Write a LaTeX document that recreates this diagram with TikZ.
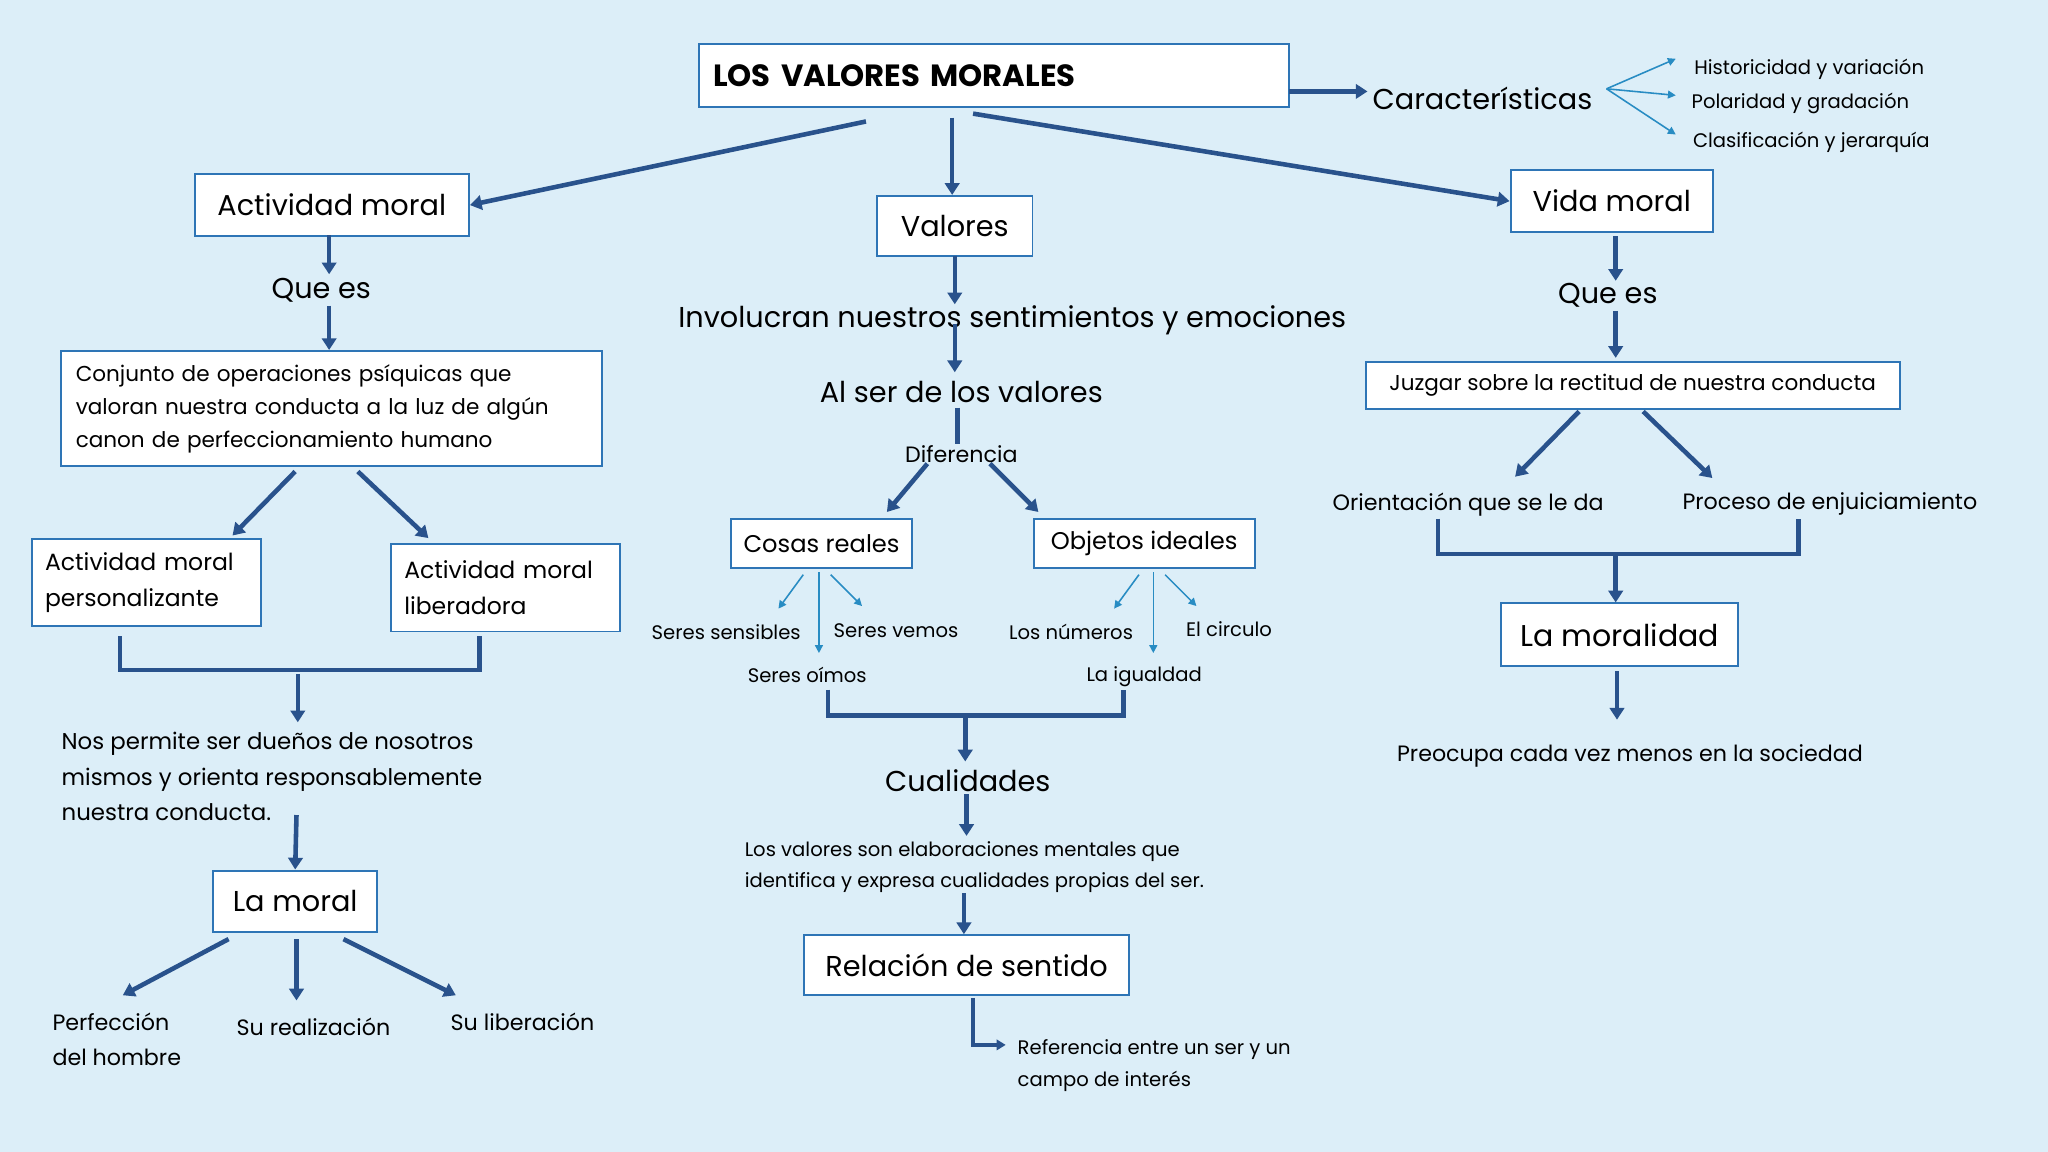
\documentclass[tikz,border=0pt]{standalone}
\usepackage{fontspec}
\setmainfont{Poppins}
\usetikzlibrary{arrows.meta}
\definecolor{bgBlue}{RGB}{220,238,248}
\definecolor{boxBlue}{RGB}{46,117,182}
\definecolor{arrowBlue}{RGB}{41,82,140}
\definecolor{thinBlue}{RGB}{40,140,195}
\begin{document}
\begin{tikzpicture}[
		x=1pt, y=-1pt,
		every node/.style={color=black, inner sep=0pt},
		]
		\tikzset{
			boxNode/.style={draw=boxBlue, fill=white, line width=1.5pt, align=left, font=\fontsize{22}{27}\selectfont},
			bigText/.style={font=\fontsize{22}{27}\selectfont},
			midText/.style={font=\fontsize{17}{27}\selectfont, align=left},
			smallText/.style={font=\fontsize{15}{24}\selectfont, align=left},
			mainArrow/.style={draw=arrowBlue, line width=3.5pt, -{Triangle[length=9pt,width=11pt]}},
			plainLine/.style={draw=arrowBlue, line width=3.5pt},
			smallArrow/.style={draw=thinBlue, line width=1.2pt, -{Triangle[length=6pt,width=6pt]}},
		}
		\fill[bgBlue] (0,0) rectangle (1568,882);
		\useasboundingbox (0,0) rectangle (1568,882);
		
		% top
		\node[boxNode, font=\bfseries\fontsize{23.5}{27}\selectfont, minimum width=452pt, minimum height=48pt, text width=430pt] (title) at (761,58) {\raisebox{-3pt}{LOS VALORES MORALES}};
		\node[bigText] (carac) at (1135,75) {Características};
		\coordinate (titleOut) at (987,70);
		\draw[mainArrow] (titleOut) -- (1047,70);
		\coordinate (caracOut) at (1230,68);
		\node[smallText, anchor=west] (hist) at (1297,53) {Historicidad y variación};
		\node[smallText, anchor=west] (pola) at (1295,79) {Polaridad y gradación};
		\node[smallText, anchor=west] (clas) at (1296,109) {Clasificación y jerarquía};
		\foreach \ty in {45, 73, 103}{
			\draw[smallArrow] (caracOut) -- (1283,\ty);
		}
		
		% left branch
		\node[boxNode, minimum width=210pt, minimum height=47pt, align=center] (actMoral) at (254,157) {\raisebox{-3pt}{Actividad moral}};
		\draw[mainArrow] (663,93) -- (actMoral.east);
		\node[bigText] (queEsL) at (246,222) {Que es};
		\draw[mainArrow] (252,180) -- (252,210);
		\draw[mainArrow] (252,234) -- (252,268);
		\node[boxNode, font=\fontsize{16.5}{25}\selectfont, minimum width=414pt, minimum height=88pt, text width=392pt] (conjunto) at (254,313)
		{\raisebox{0pt}{}Conjunto de operaciones psíquicas que\\valoran nuestra conducta a la luz de algún\\canon de perfeccionamiento humano};
		\node[boxNode, font=\fontsize{18}{27}\selectfont, minimum width=175pt, minimum height=66pt, text width=155pt] (personal) at (112,446) {Actividad moral\\personalizante};
		\node[boxNode, font=\fontsize{18}{27}\selectfont, minimum width=175pt, minimum height=67pt, text width=155pt] (liber) at (387,450) {Actividad moral\\liberadora};
		\draw[mainArrow] (226,361) -- (178,410);
		\draw[mainArrow] (274,361) -- (328,412);
		\draw[plainLine] (92,487) -- (92,513) -- (367,513) -- (367,487);
		\node[midText, font=\fontsize{17.5}{27.5}\selectfont, anchor=north west] (nosPermite) at (47,560) {Nos permite ser dueños de nosotros\\mismos y orienta responsablemente\\nuestra conducta.};
		\draw[mainArrow] (228,516) -- (228,553);
		\node[boxNode, minimum width=126pt, minimum height=47pt, align=center] (laMoral) at (226,690) {\raisebox{-3pt}{La moral}};
		\draw[mainArrow] (227,624) -- (laMoral.north);
		\node[midText, anchor=north west] (perf) at (40,775) {Perfección\\del hombre};
		\node[midText] (realiz) at (240,786) {Su realización};
		\node[midText] (liberac) at (400,782) {Su liberación};
		\draw[mainArrow] (175,719) -- (94,762);
		\draw[mainArrow] (227,719) -- (227,766);
		\draw[mainArrow] (263,719) -- (349,762);
		
		% middle branch
		\node[boxNode, minimum width=119pt, minimum height=46pt, align=center] (valores) at (731,173) {\raisebox{-3pt}{Valores}};
		\draw[mainArrow] (729,90) -- (valores.north -| 729,0);
		\node[bigText] (involucran) at (775,245) {Involucran nuestros sentimientos y emociones};
		\node[bigText] (alSer) at (736,300) {Al ser de los valores};
		\node[midText] (difer) at (736,348) {Diferencia};
		\draw[mainArrow] (731,196) -- (731,233);
		\draw[mainArrow] (731,248) -- (731,285);
		\draw[plainLine] (733,312) -- (733,340);
		\node[boxNode, font=\fontsize{18.5}{27}\selectfont, minimum width=138pt, minimum height=38pt, align=center] (cosas) at (629,416) {\raisebox{-2pt}{Cosas reales}};
		\node[boxNode, font=\fontsize{18.5}{27}\selectfont, minimum width=169pt, minimum height=38pt, align=center] (objetos) at (876,416) {\raisebox{-2pt}{Objetos ideales}};
		\draw[mainArrow] (710,355) -- (679,392);
		\draw[mainArrow] (758,355) -- (795,392);
		\node[smallText] (sensibles) at (556,484) {Seres sensibles};
		\node[smallText] (vemos) at (686,483) {Seres vemos};
		\node[smallText] (oimos) at (618,517) {Seres oímos};
		\draw[smallArrow] (615,440) -- (596,466);
		\draw[smallArrow] (636,440) -- (660,464);
		\draw[smallArrow] (627,438) -- (627,500);
		\node[smallText] (numeros) at (820,484) {Los números};
		\node[smallText] (circulo) at (941,482) {El circulo};
		\node[smallText] (igualdad) at (876,518) {La igualdad};
		\draw[smallArrow] (872,440) -- (853,466);
		\draw[smallArrow] (892,440) -- (916,464);
		\draw[smallArrow] (883,438) -- (883,500);
		\draw[plainLine] (634,528) -- (634,548) -- (860,548) -- (860,528);
		\node[bigText] (cualid) at (741,598) {Cualidades};
		\draw[mainArrow] (739,548) -- (739,583);
		\draw[mainArrow] (740,608) -- (740,640);
		\node[smallText, anchor=north west] (losValores) at (570,644) {Los valores son elaboraciones mentales que\\identifica y expresa cualidades propias del ser.};
		\node[boxNode, minimum width=249pt, minimum height=46pt, align=center] (relacion) at (740,739) {\raisebox{-3pt}{Relación de sentido}};
		\draw[mainArrow] (738,684) -- (relacion.north -| 738,0);
		\node[smallText, anchor=north west] (referencia) at (779,796) {Referencia entre un ser y un\\campo de interés};
		\draw[draw=arrowBlue, line width=2.5pt, -{Triangle[length=7pt,width=8pt]}] (745,764) -- (745,800) -- (770,800);
		
		% right branch
		\node[boxNode, minimum width=155pt, minimum height=47pt, align=center] (vidaMoral) at (1234,154) {\raisebox{-3pt}{Vida moral}};
		\draw[mainArrow] (745,87) -- (vidaMoral.west);
		\node[bigText] (queEsR) at (1231,226) {Que es};
		\draw[mainArrow] (1237,181) -- (1237,215);
		\draw[mainArrow] (1237,238) -- (1237,274);
		\node[boxNode, font=\fontsize{16.5}{25}\selectfont, minimum width=409pt, minimum height=36pt, align=center] (juzgar) at (1250,295) {\raisebox{-2pt}{Juzgar sobre la rectitud de nuestra conducta}};
		\draw[mainArrow] (1209,315) -- (1160,365);
		\draw[mainArrow] (1258,315) -- (1311,366);
		\node[midText] (orient) at (1124,386) {Orientación que se le da};
		\node[midText] (proceso) at (1401,386) {Proceso de enjuiciamiento};
		\draw[plainLine] (1101,397) -- (1101,424) -- (1377,424) -- (1377,397);
		\node[boxNode, font=\fontsize{23}{27}\selectfont, minimum width=181pt, minimum height=48pt, align=center] (moralidad) at (1240,486) {\raisebox{-3pt}{La moralidad}};
		\draw[mainArrow] (1237,424) -- (moralidad.north -| 1237,0);
		\node[midText] (preocupa) at (1248,579) {Preocupa cada vez menos en la sociedad};
		\draw[mainArrow] (1238,514) -- (1238,551);
	\end{tikzpicture}
\end{document}
